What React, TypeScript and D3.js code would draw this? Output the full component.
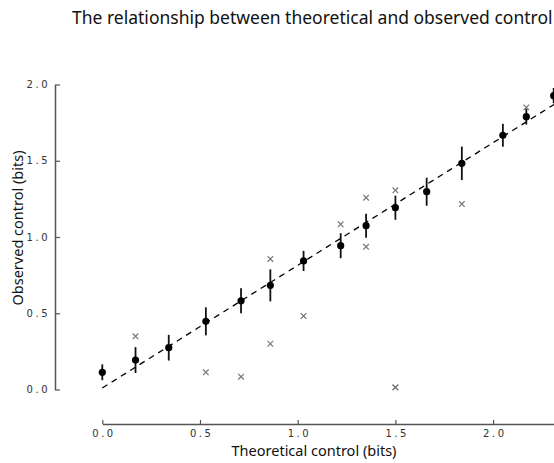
import React, { useRef, useEffect } from "react";
import * as d3 from "d3";

// theoretical control (bits) for each condition
const theoretical = [0, 0.17, 0.34, 0.53, 0.71, 0.86, 1.03, 1.22, 1.35, 1.5, 1.66, 1.84, 2.05, 2.17, 2.31];
// mean observed control and half-width of error bars
const observed = [0.113, 0.193, 0.274, 0.447, 0.582, 0.683, 0.843, 0.943, 1.074, 1.192, 1.297, 1.483, 1.667, 1.789, 1.927];
const errHalf = [0.052, 0.085, 0.084, 0.092, 0.082, 0.105, 0.066, 0.082, 0.079, 0.079, 0.092, 0.11, 0.075, 0.052, 0.05];

// individual outliers (crosses)
const crossX = [0.17, 0.53, 0.71, 0.86, 0.86, 1.03, 1.22, 1.35, 1.35, 1.5, 1.5, 1.5, 1.84, 2.17];
const crossY = [0.349, 0.113, 0.084, 0.856, 0.3, 0.482, 1.083, 1.258, 0.936, 1.306, 0.014, 0.014, 1.216, 1.85];

// fitted line end points
const fitX = [0, 2.4];
const fitY = [0.01, 1.94];

const xTicks = [0, 0.5, 1, 1.5, 2];
const yTicks = [0, 0.5, 1, 1.5, 2];

const W = 554;
const H = 463;

const App = () => {
  const ref = useRef<SVGSVGElement>(null);

  useEffect(() => {
    const svg = d3.select(ref.current);
    svg.selectAll("*").remove();

    const x = d3.scaleLinear().domain([0, 2.4]).range([102.3, 102.3 + 2.4 * 195.4]);
    const y = d3.scaleLinear().domain([0, 2]).range([389.5, 84.5]);

    // title
    svg
      .append("text")
      .attr("x", 72)
      .attr("y", 24)
      .attr("font-family", "Noto Sans")
      .attr("font-size", 17.5)
      .attr("fill", "#111")
      .text("The relationship between theoretical and observed control");

    // x axis, offset below the plot
    const gx = svg
      .append("g")
      .attr("transform", "translate(0,424)")
      .call(
        d3
          .axisBottom(x)
          .tickValues(xTicks)
          .tickFormat(d3.format(".1f"))
          .tickSizeInner(-4)
          .tickSizeOuter(0)
          .tickPadding(5.5)
      );

    const gy = svg
      .append("g")
      .attr("transform", "translate(55,0)")
      .call(
        d3
          .axisLeft(y)
          .tickValues(yTicks)
          .tickFormat(d3.format(".1f"))
          .tickSizeInner(-5)
          .tickSizeOuter(0)
          .tickPadding(5)
      );

    [gx, gy].forEach((g) => {
      g.select(".domain").attr("stroke", "#555").attr("stroke-width", 1.5);
      g.selectAll(".tick line").attr("stroke", "#555").attr("stroke-width", 1.2);
      g.selectAll(".tick text")
        .attr("font-family", "DejaVu Sans")
        .attr("font-size", 10)
        .attr("letter-spacing", "2.5px")
        .attr("fill", "#333");
    });
    gx.selectAll(".tick text").attr("dx", "1.2px");

    // axis titles
    svg
      .append("text")
      .attr("x", 314)
      .attr("y", 455.5)
      .attr("text-anchor", "middle")
      .attr("font-family", "Noto Sans")
      .attr("font-size", 14.5)
      .attr("fill", "#111")
      .text("Theoretical control (bits)");

    svg
      .append("text")
      .attr("transform", "translate(23,228) rotate(-90)")
      .attr("text-anchor", "middle")
      .attr("font-family", "Noto Sans")
      .attr("font-size", 14.5)
      .attr("fill", "#111")
      .text("Observed control (bits)");

    // fitted dashed line
    const line = d3
      .line<number>()
      .x((_, i) => x(fitX[i]))
      .y((d) => y(d));
    svg
      .append("path")
      .attr("d", line(fitY))
      .attr("fill", "none")
      .attr("stroke", "#000")
      .attr("stroke-width", 1.3)
      .attr("stroke-dasharray", "6,5");

    // crosses
    const cs = 2.8;
    const crosses = svg.append("g").attr("stroke", "#777").attr("stroke-width", 1.2);
    crossX.forEach((cx, i) => {
      const px = x(cx);
      const py = y(crossY[i]);
      crosses
        .append("path")
        .attr("d", `M${px - cs},${py - cs}L${px + cs},${py + cs}M${px - cs},${py + cs}L${px + cs},${py - cs}`);
    });

    // error bars
    svg
      .append("g")
      .selectAll("line")
      .data(theoretical)
      .enter()
      .append("line")
      .attr("x1", (d) => x(d))
      .attr("x2", (d) => x(d))
      .attr("y1", (d, i) => y(observed[i] - errHalf[i]))
      .attr("y2", (d, i) => y(observed[i] + errHalf[i]))
      .attr("stroke", "#111")
      .attr("stroke-width", 1.8);

    // mean points
    svg
      .append("g")
      .selectAll("circle")
      .data(theoretical)
      .enter()
      .append("circle")
      .attr("cx", (d) => x(d))
      .attr("cy", (d, i) => y(observed[i]))
      .attr("r", 3.6)
      .attr("fill", "#000");
  }, []);

  return (
    <div style={{ position: "absolute", left: 0, top: 0, width: W, height: H, background: "#fff" }}>
      <svg ref={ref} width={W} height={H}></svg>
    </div>
  );
};

export default App;
